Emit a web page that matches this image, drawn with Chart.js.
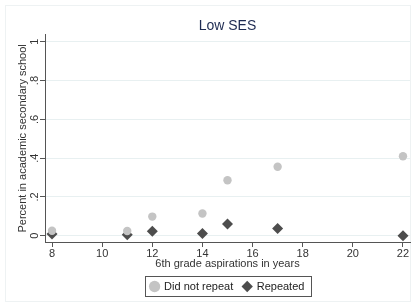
<!DOCTYPE html>
<html>
<head>
<meta charset="utf-8">
<script src="https://cdn.jsdelivr.net/npm/chart.js@4/dist/chart.umd.min.js"></script>
<style>
html, body { margin: 0; padding: 0; background: #fff; }
#wrap { width: 416px; height: 307px; }
</style>
</head>
<body>
<div id="wrap"><canvas id="grafico"></canvas></div>
<script>
// dados
var aspiracoes = [8, 11, 12, 14, 15, 17, 22];
var naoRepetiu = [0.026, 0.025, 0.099, 0.115, 0.286, 0.356, 0.410];
var repetiu = [0.009, 0.005, 0.024, 0.012, 0.061, 0.038, 0.000];
var ticksX = [8, 10, 12, 14, 16, 18, 20, 22];
var ticksY = [0, 0.2, 0.4, 0.6, 0.8, 1];
var rotulosY = ["0", ".2", ".4", ".6", ".8", "1"];

var fonte = "'Liberation Sans', Arial, sans-serif";

function pontos(xs, ys) {
    var out = [];
    for (var i = 0; i < xs.length; i++) {
        out.push({ x: xs[i], y: ys[i] });
    }
    return out;
}

// moldura, rotulos do eixo y rodados e caixa da legenda
var extras = {
    id: 'extras',
    beforeDraw: function (chart) {
        var ctx = chart.ctx;
        ctx.save();
        ctx.fillStyle = '#fff';
        ctx.fillRect(0, 0, chart.width, chart.height);
        ctx.strokeStyle = '#eef2f3';
        ctx.lineWidth = 1;
        ctx.strokeRect(5.5, 5.5, chart.width - 11, chart.height - 11);
        ctx.restore();
    },
    afterDraw: function (chart) {
        var ctx = chart.ctx;
        var sy = chart.scales.y;
        ctx.save();
        ctx.fillStyle = '#333';
        ctx.font = '11px ' + fonte;
        ctx.textAlign = 'center';
        ctx.textBaseline = 'middle';
        for (var i = 0; i < ticksY.length; i++) {
            var py = sy.getPixelForValue(ticksY[i]);
            ctx.save();
            ctx.translate(35, py);
            ctx.rotate(-Math.PI / 2);
            ctx.fillText(rotulosY[i], 0, 0);
            ctx.restore();
        }
        var caixas = chart.legend.legendHitBoxes;
        if (caixas && caixas.length) {
            var l = Infinity, r = -Infinity, t = Infinity, b = -Infinity;
            caixas.forEach(function (c) {
                l = Math.min(l, c.left); r = Math.max(r, c.left + c.width);
                t = Math.min(t, c.top); b = Math.max(b, c.top + c.height);
            });
            ctx.strokeStyle = '#555';
            ctx.lineWidth = 1;
            ctx.strokeRect(Math.round(l - 6) + 0.5, Math.round(t - 5) + 0.5,
                Math.round(r - l + 12), Math.round(b - t + 9));
        }
        ctx.restore();
    }
};

function draw() {
    var canvas = document.getElementById('grafico');
    var context = canvas.getContext('2d');
    new Chart(context, {
        type: 'scatter',
        data: {
            datasets: [{
                label: 'Did not repeat',
                data: pontos(aspiracoes, naoRepetiu),
                pointStyle: 'circle',
                pointRadius: 4.2,
                backgroundColor: '#c4c4c4',
                borderColor: '#c4c4c4',
                borderWidth: 0
            }, {
                label: 'Repeated',
                data: pontos(aspiracoes, repetiu),
                pointStyle: 'rectRot',
                pointRadius: 5.5,
                backgroundColor: '#4d4d4d',
                borderColor: '#4d4d4d',
                borderWidth: 0
            }]
        },
        options: {
            responsive: true,
            maintainAspectRatio: false,
            animation: false,
            layout: { padding: { left: 16, right: 6, top: 18, bottom: 5 } },
            plugins: {
                title: {
                    display: true,
                    text: 'Low SES',
                    fullSize: false,
                    color: '#1e2b52',
                    font: { family: fonte, size: 14, weight: 'normal' },
                    padding: { top: 0, bottom: 0 }
                },
                legend: {
                    position: 'bottom',
                    fullSize: false,
                    labels: {
                        usePointStyle: true,
                        boxWidth: 8,
                        boxHeight: 8,
                        padding: 10,
                        color: '#222',
                        font: { family: fonte, size: 11 }
                    }
                },
                tooltip: { enabled: false }
            },
            scales: {
                x: {
                    type: 'linear',
                    min: 7.72,
                    max: 22.28,
                    afterBuildTicks: function (scale) {
                        scale.ticks = ticksX.map(function (v) { return { value: v }; });
                    },
                    afterFit: function (scale) { scale.height = 29; },
                    grid: { drawOnChartArea: false, drawTicks: true, tickLength: 5, tickColor: '#555' },
                    border: { color: '#555' },
                    ticks: { color: '#333', padding: 0, maxRotation: 0, font: { family: fonte, size: 11 } },
                    title: {
                        display: true,
                        text: '6th grade aspirations in years',
                        color: '#333',
                        padding: 0,
                        font: { family: fonte, size: 11 }
                    }
                },
                y: {
                    type: 'linear',
                    min: -0.032,
                    max: 1.036,
                    afterBuildTicks: function (scale) {
                        scale.ticks = ticksY.map(function (v) { return { value: v }; });
                    },
                    afterFit: function (scale) { scale.width = 29; },
                    grid: { color: '#e8f0f1', drawTicks: true, tickLength: 5, tickColor: '#555' },
                    border: { color: '#555' },
                    ticks: { display: false },
                    title: {
                        display: true,
                        text: 'Percent in academic secondary school',
                        color: '#333',
                        padding: 0,
                        font: { family: fonte, size: 11 }
                    }
                }
            }
        },
        plugins: [extras]
    });
}

draw();
</script>
</body>
</html>
